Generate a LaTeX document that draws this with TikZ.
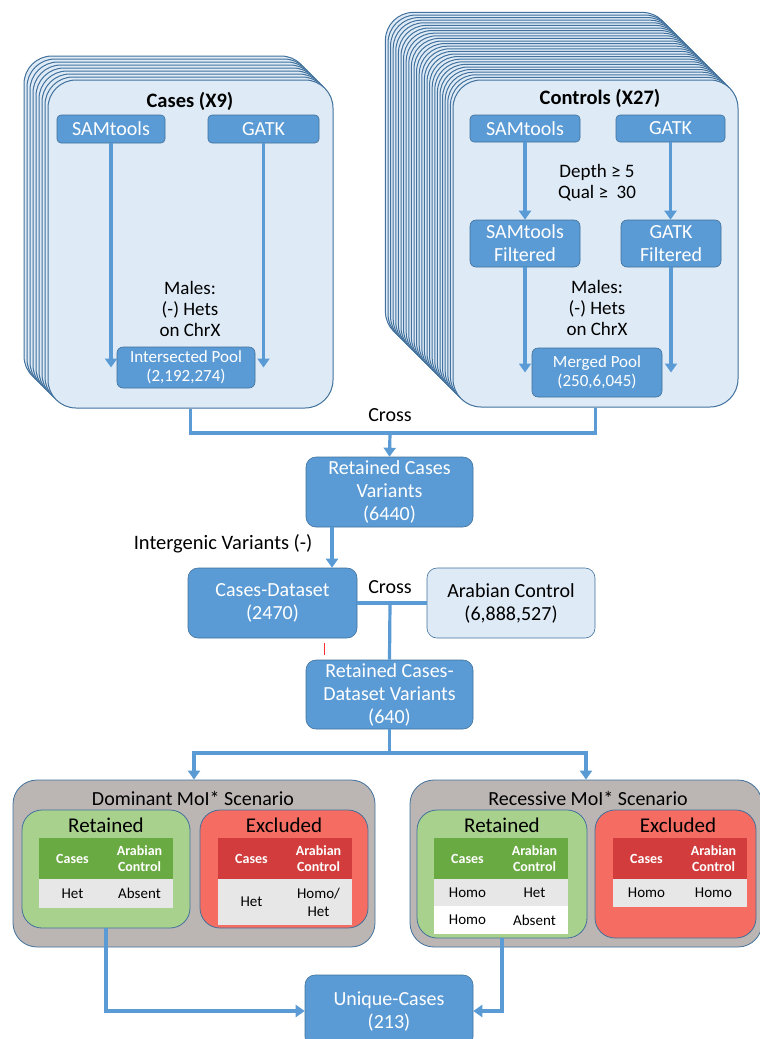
\documentclass[tikz,border=0pt]{standalone}
\usepackage{fontspec}
\setmainfont{Carlito}
\usepackage{tikz}
\usetikzlibrary{arrows.meta}
\definecolor{FlowBlue}{RGB}{91,155,213}
\definecolor{FlowBlueEdge}{RGB}{65,113,156}
\definecolor{FlowLight}{RGB}{222,235,247}
\definecolor{FlowGrey}{RGB}{187,182,180}
\definecolor{FlowGreen}{RGB}{169,209,142}
\definecolor{FlowGreenHead}{RGB}{106,170,66}
\definecolor{FlowRed}{RGB}{245,108,98}
\definecolor{FlowRedHead}{RGB}{210,60,60}
\definecolor{FlowRow}{RGB}{232,231,231}

\begin{document}
\begin{tikzpicture}[x=1pt,y=-1pt,
 stk/.style={draw=FlowBlueEdge,fill=FlowLight,line width=1pt,rounded corners=28},
 blk/.style n args={3}{fill=FlowBlue,draw=FlowBlueEdge,line width=0.6pt,text=white,rounded corners=#3,minimum width=#1,minimum height=#2,inner sep=0pt,align=center,font=\fontsize{20}{23}\selectfont},
 lbl/.style={align=center,font=\fontsize{19}{21}\selectfont},
 ttl/.style={font=\bfseries\fontsize{20.5}{23}\selectfont},
 flow/.style={draw=FlowBlue,line width=3.2pt,-{Triangle[width=12pt,length=9pt]}},
 flowline/.style={draw=FlowBlue,line width=3.2pt},
 scen/.style n args={4}{fill=#1,draw=FlowBlueEdge,line width=0.8pt,rounded corners=#4,minimum width=#2,minimum height=#3,inner sep=0pt},
 cell/.style n args={3}{fill=#1,minimum width=#2,minimum height=#3,inner sep=0pt,align=center,font=\fontsize{15}{18}\selectfont},
 hd/.style={text=white,font=\bfseries\fontsize{14}{16}\selectfont}]
\useasboundingbox (0,0) rectangle (760,1039);

% cases stack
\foreach \i in {8,...,1}
   \draw[stk] ({48-3*\i},{80-3*\i}) rectangle ++(285,328);
\node[stk,minimum width=285,minimum height=328] (caseBox) at (190.5,244) {};
\node[ttl] (caseTtl) at (190,101) {Cases (X9)};
\node[blk={108}{28}{4}] (samL) at (111,129) {SAMtools};
\node[blk={111}{28}{4}] (gatkL) at (263.5,129) {GATK};
\node[lbl] (malesL) at (190,309) {Males:\\(-) Hets\\on ChrX};
\node[blk={138}{41}{6},font=\fontsize{17}{19}\selectfont] (poolL) at (186,367.5) {Intersected Pool\\(2,192,274)};
\draw[flow] (samL.south) -- (samL.south |- poolL.west);
\draw[flow] (gatkL.south) -- (gatkL.south |- poolL.east);

% controls stack
\foreach \i in {26,...,1}
   \draw[stk] ({453-2.6*\i},{80-2.6*\i}) rectangle ++(285,327);
\node[stk,minimum width=285,minimum height=327] (ctrlBox) at (595.5,243.5) {};
\node[ttl] (ctrlTtl) at (600,98) {Controls (X27)};
\node[blk={110}{27}{4}] (samR) at (525,128.5) {SAMtools};
\node[blk={109}{27}{4}] (gatkR) at (670.5,128.5) {GATK};
\node[lbl] (filt) at (597,183) {Depth ≥ 5\\Qual ≥\ \ 30};
\node[blk={110}{47}{6}] (samRf) at (525,243.5) {SAMtools\\Filtered};
\node[blk={100}{47}{6}] (gatkRf) at (671,243.5) {GATK\\Filtered};
\node[lbl] (malesR) at (597,308) {Males:\\(-) Hets\\on ChrX};
\node[blk={130}{49}{6},font=\fontsize{17}{19}\selectfont] (poolR) at (597,372.5) {Merged Pool\\(250,6,045)};
\draw[flow] (samR) -- (samRf);
\draw[flow] (gatkR.south) -- (gatkR.south |- gatkRf.north);
\draw[flow] (samRf.south) -- (samRf.south |- poolR.west);
\draw[flow] (gatkRf.south) -- (gatkRf.south |- poolR.east);

% middle chain
\coordinate (crossA) at (390,433);
\draw[flowline] (caseBox.south) |- (crossA) -| (ctrlBox.south);
\node[lbl,font=\fontsize{20}{23}\selectfont] (crossLblA) at (390,415) {Cross};
\node[blk={167}{70}{10}] (rcv) at (389.5,492) {Retained Cases\\Variants\\(6440)};
\draw[flow] (crossA) -- (rcv.north);
\node[blk={169}{70}{10}] (cds) at (272.5,603) {Cases-Dataset\\(2470)};
\node[blk={168}{70}{10},fill=FlowLight,text=black] (arab) at (511,603) {Arabian Control\\(6,888,527)};
\draw[flow] ([xshift=-57.5pt]rcv.south) -- ([xshift=-57.5pt]rcv.south |- cds.north);
\node[lbl,anchor=east,font=\fontsize{20.5}{23}\selectfont] (igv) at (316,544) {Intergenic Variants (-)};
\draw[flowline] (cds.east) -- (arab.west);
\coordinate (crossB) at (390,603);
\node[lbl,font=\fontsize{20}{23}\selectfont] (crossLblB) at (390,587) {Cross};
\node[blk={167}{69}{10}] (rcdv) at (389.5,694.5) {Retained Cases-\\Dataset Variants\\(640)};
\draw[flowline] (crossB) -- (rcdv.north);
\draw[red!80,line width=1pt] (324,643) -- (324,655);

% scenarios
\node[scen={FlowGrey}{362}{167}{24}] (domBox) at (194,863.5) {};
\node[scen={FlowGrey}{352}{167}{24}] (recBox) at (586,863.5) {};
\coordinate (split) at (389.5,753);
\draw[flowline] (rcdv.south) -- (split);
\draw[flow] (split) -| (domBox.north);
\draw[flow] (split) -| (recBox.north);
\node[font=\fontsize{20}{23}\selectfont] (domTtl) at (193,798) {Dominant MoI* Scenario};
\node[font=\fontsize{20}{23}\selectfont] (recTtl) at (588,798) {Recessive MoI* Scenario};

\node[scen={FlowGreen}{168}{118}{20}] (domRet) at (106,869) {};
\node[scen={FlowRed}{168}{118}{20}] (domExc) at (284,869) {};
\node[scen={FlowGreen}{170}{128}{20}] (recRet) at (502,874) {};
\node[scen={FlowRed}{161}{128}{20}] (recExc) at (675.5,874) {};
\foreach \cx/\nm/\tx in {106/domRetT/Retained,284/domExcT/Excluded,502/recRetT/Retained,678/recExcT/Excluded}
   \node[font=\fontsize{21}{24}\selectfont] (\nm) at (\cx,825) {\tx};

% tables
\foreach \cx/\fc/\nm in {72.5/FlowGreenHead/dr,251.5/FlowRedHead/de,467.5/FlowGreenHead/rr,646.5/FlowRedHead/re} {
   \node[cell={\fc}{67}{41},hd] (\nm h1) at (\cx,858.5) {Cases};
   \node[cell={\fc}{67}{41},hd] (\nm h2) at ({\cx+67},858.5) {Arabian\\Control};
}
\node[cell={FlowRow}{67}{29}] (drA) at (72.5,893.5) {Het};
\node[cell={FlowRow}{67}{29}] (drB) at (139.5,893.5) {Absent};
\node[cell={FlowRow}{67}{46}] (deA) at (251.5,902) {Het};
\node[cell={FlowRow}{67}{46}] (deB) at (318.5,902) {Homo/\\Het};
\node[cell={FlowRow}{67}{27}] (rrA) at (467.5,892.5) {Homo};
\node[cell={FlowRow}{67}{27}] (rrB) at (534.5,892.5) {Het};
\node[cell={white}{67}{28}] (rrC) at (467.5,920) {Homo};
\node[cell={white}{67}{28}] (rrD) at (534.5,920) {Absent};
\node[cell={FlowRow}{67}{28}] (reA) at (646.5,893) {Homo};
\node[cell={FlowRow}{67}{28}] (reB) at (713.5,893) {Homo};

% result
\node[blk={168}{72}{10}] (uniq) at (389,1011) {Unique-Cases\\(213)};
\draw[flow] (domRet.south) |- (uniq.west);
\draw[flow] (recRet.south) |- (uniq.east);
\end{tikzpicture}
\end{document}
